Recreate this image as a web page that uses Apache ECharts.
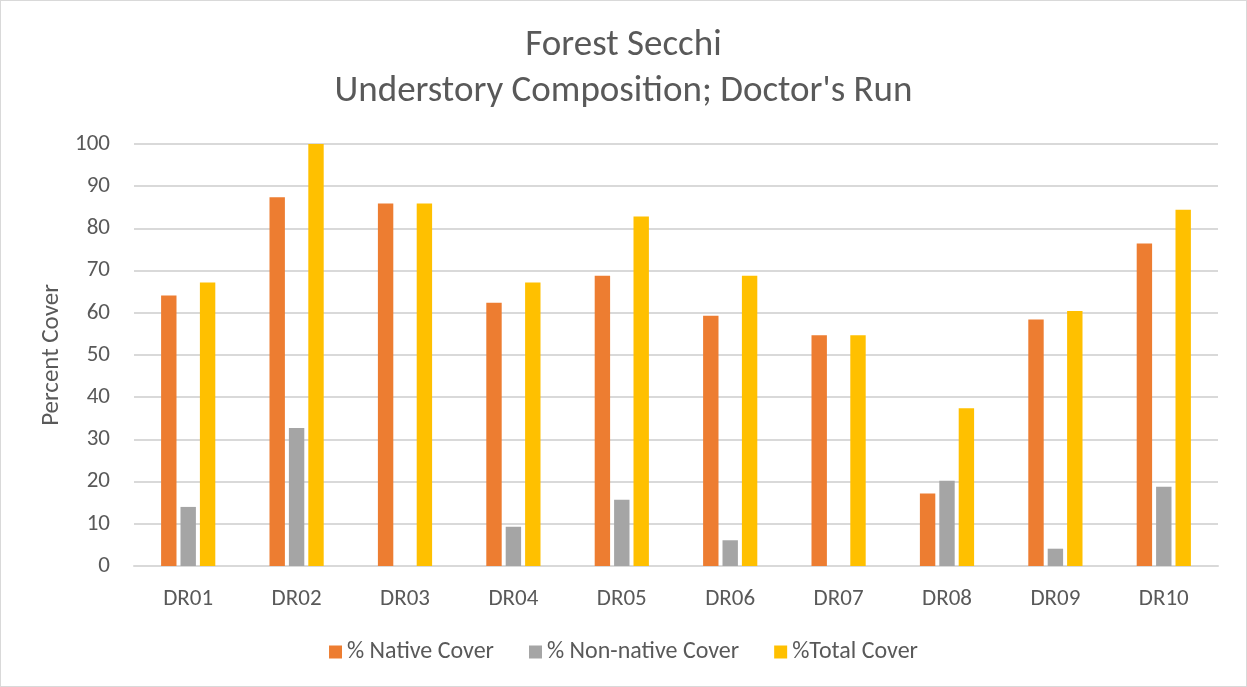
<!DOCTYPE html>
<html>
<head>
<meta charset="utf-8">
<script src="https://cdn.jsdelivr.net/npm/echarts@6/dist/echarts.min.js"></script>
<style>
  html, body { margin: 0; padding: 0; background: #fff; }
  #chart { width: 1245px; height: 685px; border: 1px solid #d9d9d9; }
</style>
</head>
<body>
<div id="chart"></div>
<script>
// 样地编号
const sites = ['DR01', 'DR02', 'DR03', 'DR04', 'DR05', 'DR06', 'DR07', 'DR08', 'DR09', 'DR10'];
// 覆盖率数据 (%)
const nativeCover = [64.1, 87.4, 85.9, 62.4, 68.8, 59.3, 54.7, 17.2, 58.4, 76.4];
const nonNativeCover = [14.0, 32.7, 0, 9.3, 15.7, 6.1, 0, 20.2, 4.1, 18.8];
const totalCover = [67.2, 100, 85.9, 67.2, 82.8, 68.8, 54.7, 37.4, 60.4, 84.4];
const yTicks = [0, 10, 20, 30, 40, 50, 60, 70, 80, 90, 100];

const fontFamily = 'Carlito, "Noto Sans", sans-serif';
const textColor = '#595959';

const chart = echarts.init(document.getElementById('chart'));
const option = {
  animation: false,
  title: {
    text: 'Forest Secchi\nUnderstory Composition; Doctor\'s Run',
    left: 'center',
    top: 17,
    textStyle: {
      fontFamily: fontFamily,
      fontSize: 37,
      fontWeight: 'normal',
      color: textColor,
      lineHeight: 46
    }
  },
  legend: {
    top: 634,
    left: 'center',
    itemWidth: 13,
    itemHeight: 13,
    itemGap: 35,
    icon: 'rect',
    textStyle: { fontFamily: fontFamily, fontSize: 24, color: textColor }
  },
  grid: { left: 133, right: 28, top: 143, bottom: 120 },
  xAxis: {
    type: 'category',
    data: sites,
    axisTick: { show: false },
    axisLine: { lineStyle: { color: '#d9d9d9', width: 2 } },
    axisLabel: { fontFamily: fontFamily, fontSize: 23, color: textColor, margin: 22 }
  },
  yAxis: {
    type: 'value',
    min: yTicks[0],
    max: yTicks[yTicks.length - 1],
    interval: 10,
    name: 'Percent Cover',
    nameLocation: 'middle',
    nameGap: 68,
    nameTextStyle: { fontFamily: fontFamily, fontSize: 25, color: textColor },
    axisLine: { show: false },
    axisTick: { show: false },
    axisLabel: { fontFamily: fontFamily, fontSize: 23, color: textColor, margin: 24 },
    splitLine: { lineStyle: { color: '#d9d9d9', width: 2 } }
  },
  series: [
    {
      name: '% Native Cover',
      type: 'bar',
      data: nativeCover,
      itemStyle: { color: '#ed7d31' },
      barGap: '26%',
      barCategoryGap: '50%'
    },
    {
      name: '% Non-native Cover',
      type: 'bar',
      data: nonNativeCover,
      itemStyle: { color: '#a5a5a5' }
    },
    {
      name: '%Total Cover',
      type: 'bar',
      data: totalCover,
      itemStyle: { color: '#ffc000' }
    }
  ]
};
chart.setOption(option);
</script>
</body>
</html>
